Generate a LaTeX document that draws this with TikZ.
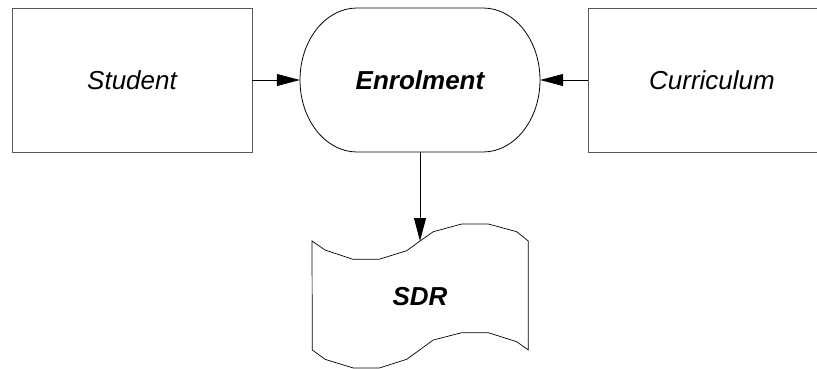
\documentclass[tikz,border=0pt]{standalone}
\usepackage{fontspec}
\setmainfont{Liberation Sans}
\usetikzlibrary{arrows.meta}
\tikzset{
  boxline/.style={draw=black!65, line width=0.9pt},
  shapeline/.style={draw=black, line width=0.8pt},
  lbl/.style={font=\fontsize{26}{30}\selectfont\itshape},
  blbl/.style={font=\fontsize{26}{30}\selectfont\bfseries\itshape},
  flow/.style={draw=black, line width=0.8pt, -{Triangle[length=23pt,width=12pt]}}
}
\begin{document}
\begin{tikzpicture}[x=1pt,y=-1pt]
\useasboundingbox (0,0) rectangle (817,369);
\clip (0,0) rectangle (817,369);
% Student
\node[boxline, lbl, minimum width=240pt, minimum height=144pt, inner sep=0pt, anchor=center] (stu) at (132,80) {Student};
% Curriculum (cut at right edge)
\node[boxline, lbl, minimum width=248pt, minimum height=144pt, inner sep=0pt, anchor=center] (cur) at (712,80) {Curriculum};
% Enrolment
\node[blbl, minimum width=240pt, minimum height=144pt, inner sep=0pt] (enr) at (420,80) {Enrolment};
\draw[shapeline] (357,8) -- (483,8) arc[start angle=90, end angle=-90, x radius=57, y radius=-72] -- (357,152) arc[start angle=270, end angle=90, x radius=57, y radius=-72] -- cycle;
% SDR document
\node[blbl, minimum width=216pt, minimum height=80pt, inner sep=0pt] (sdr) at (420,297) {SDR};
\coordinate (sdrtop) at (420,241);
\draw[shapeline, line width=0.7pt] (312,241) -- (325,250) -- (353,259.3) -- (379,259.3) -- (406.7,250.7) -- (420,241) -- (433.3,231.7) -- (461.7,224) -- (488.3,224) -- (516.7,231.7) -- (528.3,241) -- (528.3,350) -- (516.7,341.7) -- (488.3,332.7) -- (461.7,332.7) -- (433.3,340) -- (406.7,359.3) -- (379.3,368) -- (353.3,368) -- (325,359.3) -- (312.3,350) -- cycle;
% connectors
\draw[flow] (stu.east) -- (enr.west);
\draw[flow] (cur.west) -- (enr.east);
\draw[flow] (enr.south) -- (sdrtop);
\end{tikzpicture}
\end{document}
